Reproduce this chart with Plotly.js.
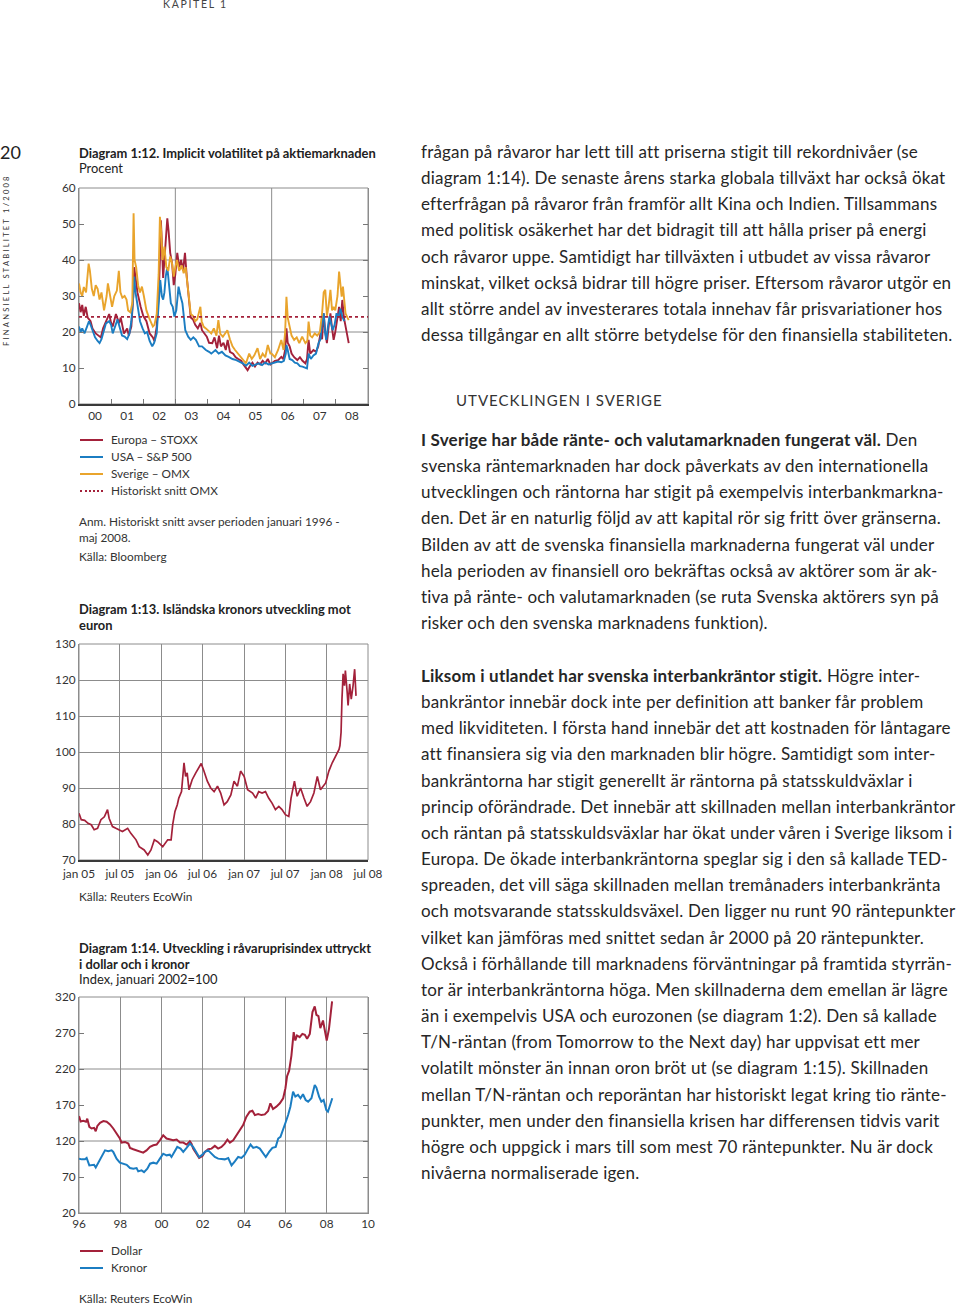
<!DOCTYPE html>
<html><head><meta charset="utf-8">
<script src="https://cdn.plot.ly/plotly-3.0.1.min.js"></script>
<style>
html,body{margin:0;padding:0;background:#fff;}
body{width:960px;height:1305px;position:relative;overflow:hidden;font-family:Lato,"Open Sans",sans-serif;color:#222;}
.abs{position:absolute;white-space:nowrap;}
.ct{font-size:12.9px;line-height:16px;color:#222;}
.ct b{font-weight:700;}
.sm{font-size:11.8px;line-height:16px;color:#333;}
.body{position:absolute;left:421px;font-size:17px;letter-spacing:0.2px;line-height:26.15px;color:#262626;white-space:nowrap;}
.sw{position:absolute;width:23px;height:0;border-top:2px solid;}
</style></head><body>
<div class="abs" style="left:163px;top:-2px;font-size:10.5px;letter-spacing:1.7px;color:#444;">KAPITEL 1</div>
<div class="abs" style="left:0px;top:141px;font-size:18px;color:#222;">20</div>
<div class="abs" style="left:1px;top:176px;height:170px;writing-mode:vertical-rl;transform:rotate(180deg);font-size:7.6px;letter-spacing:2.2px;color:#333;text-align:left;z-index:20;">FINANSIELL STABILITET 1/2008</div>

<div class="abs ct" style="left:79px;top:145px;"><b>Diagram 1:12. Implicit volatilitet på aktiemarknaden</b></div>
<div class="abs ct" style="left:79px;top:160px;">Procent</div>
<div id="c1" style="position:absolute;left:14px;top:180px;width:386px;height:250px;"></div>
<div class="sw" style="left:80px;top:439px;border-color:#a3213a;"></div><div class="abs sm" style="left:111px;top:432px;">Europa – STOXX</div>
<div class="sw" style="left:80px;top:456px;border-color:#1b7dc2;"></div><div class="abs sm" style="left:111px;top:449px;">USA – S&amp;P 500</div>
<div class="sw" style="left:80px;top:473px;border-color:#e9a42c;"></div><div class="abs sm" style="left:111px;top:466px;">Sverige – OMX</div>
<div class="sw" style="left:80px;top:490px;border-top:2px dotted #a3213a;"></div><div class="abs sm" style="left:111px;top:483px;">Historiskt snitt OMX</div>
<div class="abs sm" style="left:79px;top:514px;">Anm. Historiskt snitt avser perioden januari 1996 -</div>
<div class="abs sm" style="left:79px;top:530px;">maj 2008.</div>
<div class="abs sm" style="left:79px;top:549px;">Källa: Bloomberg</div>

<div class="abs ct" style="left:79px;top:601px;"><b>Diagram 1:13. Isländska kronors utveckling mot</b></div>
<div class="abs ct" style="left:79px;top:617px;"><b>euron</b></div>
<div id="c2" style="position:absolute;left:0;top:636px;width:400px;height:250px;"></div>
<div class="abs sm" style="left:79px;top:889px;">Källa: Reuters EcoWin</div>

<div class="abs ct" style="left:79px;top:940px;"><b>Diagram 1:14. Utveckling i råvaruprisindex uttryckt</b></div>
<div class="abs ct" style="left:79px;top:956px;"><b>i dollar och i kronor</b></div>
<div class="abs ct" style="left:79px;top:971px;">Index, januari 2002=100</div>
<div id="c3" style="position:absolute;left:0;top:989px;width:400px;height:250px;"></div>
<div class="sw" style="left:80px;top:1250px;border-color:#a3213a;"></div><div class="abs sm" style="left:111px;top:1243px;">Dollar</div>
<div class="sw" style="left:80px;top:1267px;border-color:#1b7dc2;"></div><div class="abs sm" style="left:111px;top:1260px;">Kronor</div>
<div class="abs sm" style="left:79px;top:1291px;">Källa: Reuters EcoWin</div>

<div class="body" style="top:139px;">frågan på råvaror har lett till att priserna stigit till rekordnivåer (se<br>diagram 1:14). De senaste årens starka globala tillväxt har också ökat<br>efterfrågan på råvaror från framför allt Kina och Indien. Tillsammans<br>med politisk osäkerhet har det bidragit till att hålla priser på energi<br>och råvaror uppe. Samtidigt har tillväxten i utbudet av vissa råvaror<br>minskat, vilket också bidrar till högre priser. Eftersom råvaror utgör en<br>allt större andel av investerares totala innehav får prisvariationer hos<br>dessa tillgångar en allt större betydelse för den finansiella stabiliteten.</div>
<div class="abs" style="left:456px;top:391px;font-size:15px;letter-spacing:1px;color:#333;">UTVECKLINGEN I SVERIGE</div>
<div class="body" style="top:427px;"><b>I Sverige har både ränte- och valutamarknaden fungerat väl.</b> Den<br>svenska räntemarknaden har dock påverkats av den internationella<br>utvecklingen och räntorna har stigit på exempelvis interbankmarkna-<br>den. Det är en naturlig följd av att kapital rör sig fritt över gränserna.<br>Bilden av att de svenska finansiella marknaderna fungerat väl under<br>hela perioden av finansiell oro bekräftas också av aktörer som är ak-<br>tiva på ränte- och valutamarknaden (se ruta Svenska aktörers syn på<br>risker och den svenska marknadens funktion).</div>
<div class="body" style="top:663px;"><b>Liksom i utlandet har svenska interbankräntor stigit.</b> Högre inter-<br>bankräntor innebär dock inte per definition att banker får problem<br>med likviditeten. I första hand innebär det att kostnaden för låntagare<br>att finansiera sig via den marknaden blir högre. Samtidigt som inter-<br>bankräntorna har stigit generellt är räntorna på statsskuldväxlar i<br>princip oförändrade. Det innebär att skillnaden mellan interbankräntor<br>och räntan på statsskuldsväxlar har ökat under våren i Sverige liksom i<br>Europa. De ökade interbankräntorna speglar sig i den så kallade TED-<br>spreaden, det vill säga skillnaden mellan tremånaders interbankränta<br>och motsvarande statsskuldsväxel. Den ligger nu runt 90 räntepunkter<br>vilket kan jämföras med snittet sedan år 2000 på 20 räntepunkter.<br>Också i förhållande till marknadens förväntningar på framtida styrrän-<br>tor är interbankräntorna höga. Men skillnaderna dem emellan är lägre<br>än i exempelvis USA och eurozonen (se diagram 1:2). Den så kallade<br>T/N-räntan (from Tomorrow to the Next day) har uppvisat ett mer<br>volatilt mönster än innan oron bröt ut (se diagram 1:15). Skillnaden<br>mellan T/N-räntan och reporäntan har historiskt legat kring tio ränte-<br>punkter, men under den finansiella krisen har differensen tidvis varit<br>högre och uppgick i mars till som mest 70 räntepunkter. Nu är dock<br>nivåerna normaliserade igen.</div>

<script>
// ---------- Diagram 1:12 data (year, percent) ----------
const europaX=[2000.00,2000.05,2000.10,2000.15,2000.21,2000.27,2000.36,2000.42,2000.52,2000.60,2000.68,2000.75,2000.84,2000.94,2001.00,2001.05,2001.15,2001.25,2001.30,2001.40,2001.50,2001.55,2001.63,2001.69,2001.72,2001.77,2001.82,2001.92,2002.00,2002.10,2002.20,2002.30,2002.35,2002.42,2002.48,2002.52,2002.55,2002.58,2002.62,2002.66,2002.70,2002.75,2002.79,2002.84,2002.90,2002.95,2003.00,2003.06,2003.12,2003.18,2003.24,2003.30,2003.36,2003.42,2003.48,2003.55,2003.62,2003.70,2003.78,2003.83,2003.90,2003.98,2004.05,2004.15,2004.22,2004.30,2004.36,2004.42,2004.50,2004.57,2004.63,2004.70,2004.80,2004.88,2004.96,2005.05,2005.12,2005.20,2005.25,2005.32,2005.40,2005.48,2005.56,2005.64,2005.72,2005.80,2005.88,2005.96,2006.00,2006.10,2006.20,2006.30,2006.36,2006.42,2006.46,2006.50,2006.56,2006.62,2006.70,2006.80,2006.88,2006.96,2007.05,2007.10,2007.15,2007.20,2007.30,2007.38,2007.45,2007.52,2007.57,2007.62,2007.67,2007.72,2007.78,2007.83,2007.88,2007.93,2007.98,2008.05,2008.10,2008.15,2008.20,2008.25,2008.30,2008.35,2008.40];
const europaY=[28.0,25.5,27.5,24.5,27.0,24.0,23.0,21.0,19.6,19.0,18.5,21.0,23.0,25.0,22.5,21.5,25.0,22.4,24.0,19.6,21.0,19.0,21.5,30.0,38.0,35.0,31.0,27.0,24.5,23.0,19.6,18.5,17.5,21.5,30.0,40.0,51.0,45.0,35.0,40.0,46.0,51.6,48.0,42.0,39.0,33.0,36.0,42.0,38.0,40.0,37.0,42.0,35.0,29.0,24.0,23.5,22.0,21.0,22.5,20.5,19.5,18.7,17.0,16.9,18.5,15.5,19.0,16.0,17.0,15.0,17.8,14.5,14.0,13.0,12.5,12.0,11.0,10.0,9.4,10.5,11.5,10.4,11.5,11.0,12.0,11.3,12.5,11.0,11.3,12.0,12.2,13.1,12.5,15.0,21.0,17.0,16.0,14.0,13.0,12.2,13.0,12.0,11.3,12.5,17.8,14.0,15.0,14.5,16.0,19.6,18.0,25.2,20.0,16.9,22.0,25.2,21.0,17.8,20.0,24.0,27.0,23.0,28.9,24.0,21.5,18.5,16.9];
const usaX=[2000.00,2000.05,2000.10,2000.17,2000.25,2000.31,2000.36,2000.42,2000.50,2000.58,2000.64,2000.70,2000.78,2000.84,2000.94,2001.00,2001.05,2001.12,2001.20,2001.26,2001.34,2001.42,2001.50,2001.57,2001.63,2001.69,2001.72,2001.76,2001.82,2001.90,2001.98,2002.05,2002.12,2002.20,2002.28,2002.34,2002.42,2002.48,2002.53,2002.58,2002.62,2002.66,2002.70,2002.75,2002.80,2002.86,2002.92,2002.97,2003.03,2003.10,2003.16,2003.22,2003.31,2003.40,2003.48,2003.56,2003.64,2003.74,2003.83,2003.95,2004.05,2004.12,2004.25,2004.35,2004.45,2004.56,2004.66,2004.78,2004.90,2005.00,2005.10,2005.20,2005.30,2005.40,2005.50,2005.60,2005.70,2005.80,2005.90,2006.00,2006.10,2006.20,2006.30,2006.38,2006.44,2006.46,2006.50,2006.56,2006.64,2006.72,2006.80,2006.88,2006.96,2007.05,2007.10,2007.15,2007.22,2007.30,2007.38,2007.46,2007.52,2007.58,2007.62,2007.66,2007.70,2007.76,2007.80,2007.86,2007.90,2007.96,2008.02,2008.08,2008.14,2008.20,2008.26];
const usaY=[21.5,20.0,21.0,19.6,21.5,23.0,22.0,20.5,18.5,17.5,16.9,18.0,21.0,22.4,23.0,22.0,19.6,21.5,23.5,21.5,19.0,18.7,18.0,19.5,23.0,30.0,35.4,31.0,28.0,23.0,21.0,19.6,20.0,17.5,16.0,17.0,19.6,28.0,34.4,30.0,29.0,31.0,35.4,38.0,33.0,28.0,27.0,24.3,26.0,32.6,30.0,28.0,20.5,18.7,17.8,18.5,17.8,16.0,16.0,15.0,14.5,14.0,15.0,14.0,14.5,13.5,13.1,12.5,12.2,11.8,11.3,10.6,11.5,10.6,11.0,11.3,10.8,11.5,11.0,11.3,11.5,11.8,11.6,12.0,14.0,16.4,15.0,12.5,12.2,11.5,11.3,10.5,10.4,10.2,9.9,14.0,12.5,13.5,14.0,16.9,18.0,24.0,25.2,20.0,17.8,22.0,24.3,22.0,20.5,22.0,25.2,24.0,26.5,24.3,23.0];
const sverigeX=[2000.00,2000.05,2000.10,2000.15,2000.22,2000.27,2000.30,2000.34,2000.40,2000.46,2000.52,2000.58,2000.64,2000.70,2000.78,2000.86,2000.90,2000.96,2001.03,2001.10,2001.18,2001.24,2001.29,2001.35,2001.42,2001.48,2001.53,2001.60,2001.66,2001.70,2001.73,2001.78,2001.84,2001.90,2001.96,2002.02,2002.10,2002.18,2002.23,2002.30,2002.35,2002.42,2002.48,2002.52,2002.56,2002.60,2002.66,2002.72,2002.78,2002.84,2002.90,2002.95,2003.00,2003.05,2003.12,2003.20,2003.26,2003.32,2003.38,2003.42,2003.48,2003.55,2003.62,2003.68,2003.78,2003.82,2003.88,2003.95,2004.05,2004.12,2004.20,2004.28,2004.34,2004.40,2004.48,2004.55,2004.62,2004.70,2004.78,2004.86,2004.95,2005.04,2005.12,2005.20,2005.30,2005.38,2005.46,2005.56,2005.64,2005.72,2005.80,2005.88,2005.96,2006.00,2006.10,2006.20,2006.30,2006.37,2006.42,2006.46,2006.50,2006.56,2006.62,2006.70,2006.78,2006.86,2006.95,2007.05,2007.11,2007.15,2007.20,2007.26,2007.34,2007.42,2007.50,2007.57,2007.62,2007.67,2007.72,2007.77,2007.83,2007.88,2007.93,2007.98,2008.05,2008.10,2008.14,2008.18,2008.22,2008.30,2008.36,2008.40];
const sverigeY=[33.5,31.0,30.0,32.5,31.0,36.0,39.0,37.0,32.0,30.0,33.0,32.0,29.0,31.0,26.0,30.0,33.5,30.5,27.0,30.0,31.5,37.0,31.0,29.5,30.0,29.0,26.0,25.5,28.0,53.0,40.0,38.0,33.0,31.0,32.6,30.0,26.0,24.0,23.0,21.5,22.0,25.0,36.0,52.0,48.0,40.0,43.7,38.0,37.0,41.0,39.0,35.4,38.0,40.0,37.0,38.5,36.3,38.0,33.0,29.0,25.0,24.5,23.0,23.5,27.0,23.0,21.5,21.0,20.0,19.6,21.0,19.0,23.3,19.5,18.7,19.5,20.5,18.0,16.0,15.0,14.0,13.0,12.0,11.3,14.0,12.5,13.5,15.5,12.5,14.0,13.0,16.4,14.0,14.0,13.0,15.0,17.8,15.0,20.0,29.8,24.0,21.5,19.0,17.8,18.5,16.9,18.7,16.9,17.5,22.9,19.0,18.5,19.6,19.0,20.0,25.2,31.0,31.7,24.5,27.0,31.7,26.0,27.0,26.0,30.0,36.8,33.0,29.8,32.6,25.2,24.0,23.3];
const snittX=[2000,2009];
const snittY=[24.2,24.2];
const volYears=['00','01','02','03','04','05','06','07','08'];

// ---------- Diagram 1:13 data (ISK per EUR) ----------
const iskDates=['2005-01-01','2005-01-11','2005-01-26','2005-02-10','2005-02-24','2005-03-09','2005-03-24','2005-04-08','2005-04-23','2005-05-07','2005-05-14','2005-05-29','2005-06-13','2005-06-28','2005-07-12','2005-08-04','2005-08-18','2005-09-10','2005-09-24','2005-10-16','2005-11-01','2005-11-15','2005-11-30','2005-12-14','2006-01-06','2006-01-28','2006-02-12','2006-02-19','2006-03-01','2006-03-11','2006-03-18','2006-03-30','2006-04-10','2006-04-17','2006-04-24','2006-05-02','2006-05-16','2006-06-01','2006-06-15','2006-06-25','2006-07-07','2006-07-22','2006-08-06','2006-08-21','2006-09-05','2006-09-19','2006-10-04','2006-10-18','2006-11-03','2006-11-17','2006-12-02','2006-12-16','2007-01-01','2007-01-16','2007-02-07','2007-02-21','2007-03-06','2007-03-21','2007-04-05','2007-04-19','2007-05-04','2007-05-19','2007-06-03','2007-06-17','2007-07-02','2007-07-17','2007-07-27','2007-08-11','2007-08-23','2007-09-07','2007-09-22','2007-10-06','2007-10-21','2007-11-05','2007-11-20','2007-12-04','2007-12-27','2008-01-10','2008-01-25','2008-02-09','2008-02-24','2008-02-28','2008-03-04','2008-03-08','2008-03-13','2008-03-19','2008-03-23','2008-03-31','2008-04-04','2008-04-11','2008-04-18','2008-04-26','2008-05-03','2008-05-09'];
const iskValues=[83.0,81.2,81.0,80.2,79.8,78.4,78.8,81.2,82.0,84.0,81.6,79.3,78.8,78.4,77.9,78.8,77.4,75.6,73.7,72.8,71.4,72.8,75.6,75.1,73.7,75.6,75.6,79.8,83.5,85.3,87.2,89.0,97.0,93.2,94.2,89.5,92.3,94.2,95.6,96.8,94.7,91.9,90.0,89.0,90.5,88.6,85.3,86.2,88.1,91.9,90.5,94.7,93.2,89.5,88.6,87.2,89.0,88.6,89.0,87.2,85.8,84.0,84.9,84.0,82.6,82.1,87.2,91.9,87.7,90.0,87.2,84.9,86.2,88.6,93.2,89.5,91.4,94.7,97.0,98.8,100.7,101.8,105.5,114.7,121.7,118.4,122.6,116.6,112.9,118.9,114.7,118.4,123.0,115.6];
const iskTickVals=['2005-01-01','2005-07-01','2006-01-01','2006-07-01','2007-01-01','2007-07-01','2008-01-01','2008-07-01'];
const iskTickText=['jan 05','jul 05','jan 06','jul 06','jan 07','jul 07','jan 08','jul 08'];

// ---------- Diagram 1:14 data (index, jan 2002 = 100) ----------
const dollarX=[1996.00,1996.08,1996.21,1996.34,1996.40,1996.50,1996.61,1996.73,1996.81,1996.89,1997.02,1997.18,1997.34,1997.50,1997.66,1997.82,1997.98,1998.06,1998.23,1998.39,1998.47,1998.63,1998.79,1998.95,1999.11,1999.27,1999.44,1999.60,1999.76,1999.92,2000.08,2000.24,2000.40,2000.56,2000.73,2000.89,2001.05,2001.21,2001.37,2001.45,2001.53,2001.69,2001.82,2001.98,2002.10,2002.26,2002.42,2002.58,2002.74,2002.90,2003.06,2003.19,2003.31,2003.47,2003.63,2003.79,2003.95,2004.11,2004.27,2004.40,2004.52,2004.68,2004.84,2005.00,2005.16,2005.27,2005.40,2005.56,2005.73,2005.89,2006.00,2006.08,2006.18,2006.29,2006.40,2006.48,2006.56,2006.69,2006.82,2006.94,2007.05,2007.18,2007.31,2007.42,2007.50,2007.60,2007.69,2007.82,2007.90,2008.00,2008.11,2008.26];
const dollarY=[154.5,147,148,146.7,151,139.7,137.4,138.3,133.6,141,145.3,147.6,146.7,143,137.4,130.4,123.4,117.8,118.7,116.4,110.4,108.5,107,104.8,103.8,107,111.8,114,115,121,128,123.4,122.5,121,122,117.8,117.8,115,119.7,116.4,109.4,102.4,96.4,99.2,104.8,108.5,109.4,113.2,109.4,111.8,116.4,122,117.8,121,128,135,142,153.7,160.7,162,156,157.5,156,157,161.6,172.3,164.4,167.7,172.3,179.3,193.3,210,217.7,238.6,271.2,259.5,266.5,264.2,268.8,267.4,261.9,268.8,299.1,307,295.3,293.5,276.7,287.4,275.8,259.5,275.8,314];
const kronorX=[1996.00,1996.13,1996.29,1996.37,1996.50,1996.61,1996.73,1996.81,1996.94,1997.10,1997.26,1997.42,1997.58,1997.66,1997.82,1997.98,1998.15,1998.31,1998.47,1998.63,1998.79,1998.87,1999.03,1999.15,1999.31,1999.44,1999.60,1999.76,1999.92,2000.08,2000.24,2000.40,2000.48,2000.65,2000.76,2000.92,2001.05,2001.21,2001.37,2001.53,2001.69,2001.82,2001.98,2002.10,2002.26,2002.42,2002.58,2002.74,2002.90,2003.06,2003.23,2003.39,2003.55,2003.71,2003.87,2004.03,2004.19,2004.31,2004.44,2004.60,2004.76,2004.92,2005.05,2005.21,2005.37,2005.53,2005.65,2005.76,2005.89,2006.02,2006.13,2006.24,2006.37,2006.48,2006.61,2006.73,2006.85,2006.98,2007.10,2007.26,2007.42,2007.50,2007.63,2007.74,2007.85,2007.98,2008.06,2008.18,2008.27];
const kronorY=[95.5,94.5,94.5,96.4,86.1,86.1,87,83.3,89.9,100.1,107,105.7,107,104.8,95.5,89.9,88.5,87,82.4,81.5,82.4,77.8,79.2,76.8,81.5,88.5,89.9,88.5,95.5,102.4,100.1,101,97.8,107,111.8,109.4,104.8,110.4,116.4,111.8,104.8,97.8,101,104.8,107,102.4,97.8,95.5,95.5,94.5,96.4,86.1,91.7,97.8,96.4,101,109.4,115,110.4,111.8,109.4,103.8,97.8,104.8,110.4,111.8,123.4,125.7,135,146.7,156,167.7,188.6,181.6,184,179.3,184.9,177,174.6,179.3,197.9,194.2,181.6,174.6,177,163,160.7,172.3,179.3];
const rawTickVals=[1996,1998,2000,2002,2004,2006,2008,2010];
const rawTickText=['96','98','00','02','04','06','08','10'];

// ---------- styling ----------
const RED='#a3213a', BLUE='#1b7dc2', ORANGE='#e9a42c', GRID='#8c8c8c', FRAME='#8c8c8c', DARK='#3a3a3a';
const FONT={family:'Lato, sans-serif',size:11.8,color:'#333'};
const cfg={staticPlot:true,displayModeBar:false};
const M={l:79,r:32,t:8,b:26};
function frame(){return {type:'rect',xref:'paper',yref:'paper',x0:0,x1:1,y0:0,y1:1,line:{color:FRAME,width:1},layer:'below'};}
function vgrid(v){return {type:'line',xref:'x',yref:'paper',x0:v,x1:v,y0:0,y1:1,line:{color:GRID,width:1},layer:'below'};}
function hgrid(v){return {type:'line',xref:'paper',yref:'y',x0:0,x1:1,y0:v,y1:v,line:{color:GRID,width:1},layer:'below'};}

// Chart 1
Plotly.newPlot('c1',[
 {x:europaX,y:europaY,name:'Europa – STOXX',mode:'lines',line:{color:RED,width:1.9}},
 {x:usaX,y:usaY,name:'USA – S&P 500',mode:'lines',line:{color:BLUE,width:1.9}},
 {x:sverigeX,y:sverigeY,name:'Sverige – OMX',mode:'lines',line:{color:ORANGE,width:1.9}},
 {x:snittX,y:snittY,name:'Historiskt snitt OMX',mode:'lines',line:{color:RED,width:1.6,dash:'dot'}}
],{
 width:386,height:250,margin:{l:65,r:32,t:8,b:26},showlegend:false,paper_bgcolor:'rgba(0,0,0,0)',plot_bgcolor:'#fff',font:FONT,
 xaxis:{range:[2000,2009],tickmode:'array',tickvals:volYears.map((s,i)=>2000.5+i),ticktext:volYears,ticks:'',showgrid:false,zeroline:false,showline:true,linecolor:DARK,linewidth:1.5,
   minor:{tickmode:'array',tickvals:[2001,2002,2003,2004,2005,2006,2007,2008],ticks:'inside',ticklen:5,tickcolor:'#777',showgrid:false}},
 yaxis:{range:[0,60],tickmode:'array',tickvals:[0,10,20,30,40,50,60],ticks:'inside',ticklen:5,tickcolor:'#777',showgrid:false,zeroline:false,showline:true,linecolor:FRAME,mirror:'ticks'},
 shapes:[frame(),vgrid(2003),vgrid(2006),hgrid(20),hgrid(40)]
},cfg);

// Chart 2
Plotly.newPlot('c2',[
 {x:iskDates,y:iskValues,name:'ISK/EUR',mode:'lines',line:{color:RED,width:1.7}}
],{
 width:400,height:250,margin:M,showlegend:false,paper_bgcolor:'rgba(0,0,0,0)',plot_bgcolor:'#fff',font:FONT,
 xaxis:{type:'date',range:['2005-01-01','2008-07-01'],tickmode:'array',tickvals:iskTickVals,ticktext:iskTickText,ticks:'',ticklabelstandoff:2,showgrid:true,gridcolor:GRID,gridwidth:1,zeroline:false,showline:true,linecolor:DARK,linewidth:1.5},
 yaxis:{range:[70,130],tickmode:'array',tickvals:[70,80,90,100,110,120,130],ticks:'',showgrid:true,gridcolor:GRID,zeroline:false,showline:true,linecolor:FRAME},
 shapes:[frame()]
},cfg);

// Chart 3
Plotly.newPlot('c3',[
 {x:dollarX,y:dollarY,name:'Dollar',mode:'lines',line:{color:RED,width:2}},
 {x:kronorX,y:kronorY,name:'Kronor',mode:'lines',line:{color:BLUE,width:2}}
],{
 width:400,height:250,margin:M,showlegend:false,paper_bgcolor:'rgba(0,0,0,0)',plot_bgcolor:'#fff',font:FONT,
 xaxis:{range:[1996,2010],tickmode:'array',tickvals:rawTickVals,ticktext:rawTickText,ticks:'',showgrid:true,gridcolor:GRID,zeroline:false,showline:true,linecolor:FRAME},
 yaxis:{range:[20,320],tickmode:'array',tickvals:[20,70,120,170,220,270,320],ticks:'inside',ticklen:5,tickcolor:'#777',showgrid:false,zeroline:false,showline:true,linecolor:FRAME,mirror:'ticks'},
 shapes:[frame(),hgrid(120),hgrid(220)]
},cfg);
</script>
</body></html>
